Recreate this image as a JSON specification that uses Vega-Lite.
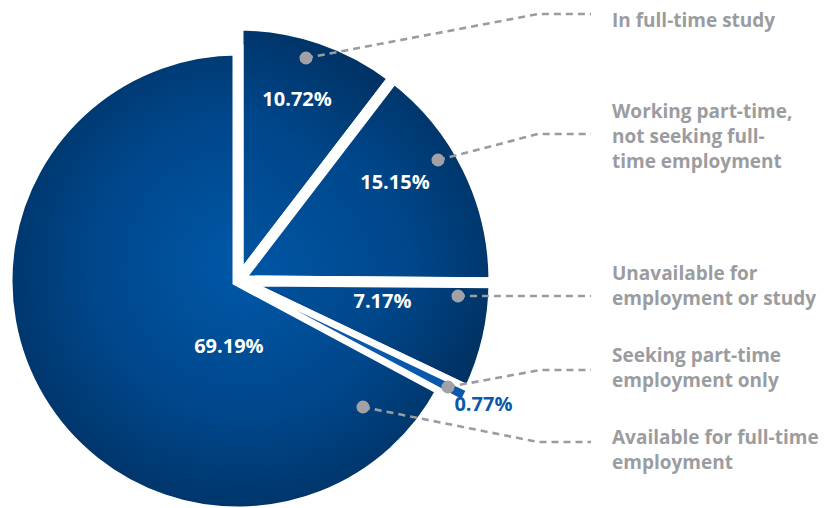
{
  "$schema": "https://vega.github.io/schema/vega-lite/v6.json",
  "width": 826,
  "height": 508,
  "padding": 0,
  "autosize": {"type": "none"},
  "background": "white",
  "config": {"view": {"stroke": null}},
  "datasets": {
    "slices": [
      {"category": "In full-time study", "value": 10.72, "order": 1},
      {"category": "Working part-time, not seeking full-time employment", "value": 15.15, "order": 2},
      {"category": "Unavailable for employment or study", "value": 7.17, "order": 3},
      {"category": "Seeking part-time employment only", "value": 0.77, "order": 4},
      {"category": "Available for full-time employment", "value": 69.19, "order": 5}
    ],
    "labels": [
      {"category": "In full-time study", "lines": ["In full-time study"], "px": 612, "py": 11.6},
      {"category": "Working part-time, not seeking full-time employment", "lines": ["Working part-time,", "not seeking full-", "time employment"], "px": 612, "py": 102.6},
      {"category": "Unavailable for employment or study", "lines": ["Unavailable for", "employment or study"], "px": 612, "py": 264.6},
      {"category": "Seeking part-time employment only", "lines": ["Seeking part-time", "employment only"], "px": 612, "py": 346.6},
      {"category": "Available for full-time employment", "lines": ["Available for full-time", "employment"], "px": 612, "py": 428.6}
    ],
    "leaders": [
      {"category": "In full-time study", "step": 1, "px": 306, "py": 58},
      {"category": "In full-time study", "step": 2, "px": 538, "py": 14},
      {"category": "In full-time study", "step": 3, "px": 591, "py": 14},
      {"category": "Working part-time, not seeking full-time employment", "step": 1, "px": 438, "py": 160},
      {"category": "Working part-time, not seeking full-time employment", "step": 2, "px": 538, "py": 134},
      {"category": "Working part-time, not seeking full-time employment", "step": 3, "px": 591, "py": 134},
      {"category": "Unavailable for employment or study", "step": 1, "px": 458, "py": 296},
      {"category": "Unavailable for employment or study", "step": 3, "px": 591, "py": 296},
      {"category": "Seeking part-time employment only", "step": 1, "px": 448, "py": 387},
      {"category": "Seeking part-time employment only", "step": 2, "px": 540, "py": 370},
      {"category": "Seeking part-time employment only", "step": 3, "px": 591, "py": 370},
      {"category": "Available for full-time employment", "step": 1, "px": 363, "py": 407},
      {"category": "Available for full-time employment", "step": 2, "px": 538, "py": 442},
      {"category": "Available for full-time employment", "step": 3, "px": 591, "py": 442}
    ]
  },
  "layer": [
    {
      "data": {"name": "slices"},
      "mark": {
        "type": "arc",
        "outerRadius": {"expr": "datum.value > 50 ? 231 : 256"},
        "stroke": "white",
        "strokeWidth": 11,
        "strokeJoin": "miter"
      },
      "encoding": {
        "theta": {"field": "value", "type": "quantitative", "stack": true},
        "order": {"field": "order", "type": "quantitative"},
        "x": {"datum": 238, "type": "quantitative", "scale": {"domain": [0, 826], "nice": false, "zero": false}, "axis": null},
        "y": {"datum": 281, "type": "quantitative", "scale": {"domain": [0, 508], "nice": false, "zero": false, "reverse": true}, "axis": null},
        "fill": {
          "condition": [
            {"test": "datum.order == 1", "value": {"gradient": "radial", "x1": 0, "y1": 1, "r1": 0, "x2": 0, "y2": 1, "r2": 1.15, "stops": [{"offset": 0, "color": "#0058a8"}, {"offset": 0.6, "color": "#00468a"}, {"offset": 1, "color": "#002f5e"}]}},
            {"test": "datum.order == 2", "value": {"gradient": "radial", "x1": 0, "y1": 0.93, "r1": 0, "x2": 0, "y2": 0.93, "r2": 1.15, "stops": [{"offset": 0, "color": "#0058a8"}, {"offset": 0.6, "color": "#00468a"}, {"offset": 1, "color": "#002f5e"}]}},
            {"test": "datum.order == 3", "value": {"gradient": "radial", "x1": 0, "y1": 0, "r1": 0, "x2": 0, "y2": 0, "r2": 1.15, "stops": [{"offset": 0, "color": "#0058a8"}, {"offset": 0.6, "color": "#00468a"}, {"offset": 1, "color": "#002f5e"}]}},
            {"test": "datum.order == 4", "value": "#0a58aa"}
          ],
          "value": {"gradient": "radial", "x1": 0.54, "y1": 0.47, "r1": 0, "x2": 0.54, "y2": 0.47, "r2": 0.6, "stops": [{"offset": 0, "color": "#0058a8"}, {"offset": 0.55, "color": "#00468a"}, {"offset": 1, "color": "#002f5e"}]}
        }
      }
    },
    {
      "data": {"name": "slices"},
      "mark": {
        "type": "arc",
        "outerRadius": 254,
        "stroke": "white",
        "strokeWidth": 3,
        "fill": "#0a58aa"
      },
      "encoding": {
        "theta": {"field": "value", "type": "quantitative", "stack": true},
        "order": {"field": "order", "type": "quantitative"},
        "x": {"datum": 238, "type": "quantitative"},
        "y": {"datum": 281, "type": "quantitative"},
        "opacity": {"condition": {"test": "datum.value < 1", "value": 1}, "value": 0}
      }
    },
    {
      "data": {"name": "leaders"},
      "mark": {"type": "line", "stroke": "#9c9ca0", "strokeWidth": 2.6, "strokeDash": [7, 5]},
      "encoding": {
        "x": {"field": "px", "type": "quantitative"},
        "y": {"field": "py", "type": "quantitative"},
        "detail": {"field": "category"},
        "order": {"field": "step", "type": "quantitative"}
      }
    },
    {
      "data": {"name": "leaders"},
      "transform": [{"filter": "datum.step == 1"}],
      "mark": {"type": "point", "filled": true, "size": 170, "color": "#a2a2a6", "opacity": 1},
      "encoding": {
        "x": {"field": "px", "type": "quantitative"},
        "y": {"field": "py", "type": "quantitative"}
      }
    },
    {
      "data": {"name": "slices"},
      "mark": {
        "type": "text",
        "font": "Open Sans",
        "fontWeight": "bold",
        "fontSize": 20,
        "align": "center",
        "baseline": "middle",
        "text": {"expr": "format(datum.value, '.2f') + '%'"},
        "radius": {"expr": "[190, 185, 146, 275, 67][datum.order - 1]"},
        "thetaOffset": {"expr": "[-0.011, -0.103, -0.082, 0, -0.895][datum.order - 1]"}
      },
      "encoding": {
        "theta": {"field": "value", "type": "quantitative", "stack": true},
        "order": {"field": "order", "type": "quantitative"},
        "x": {"datum": 238, "type": "quantitative"},
        "y": {"datum": 281, "type": "quantitative"},
        "color": {"condition": {"test": "datum.value < 1", "value": "#0a58aa"}, "value": "white"}
      }
    },
    {
      "data": {"name": "labels"},
      "mark": {"type": "text", "font": "Open Sans", "fontWeight": "bold", "fontSize": 19, "align": "left", "baseline": "top", "lineHeight": 25, "color": "#9b9ca0"},
      "encoding": {
        "x": {"field": "px", "type": "quantitative"},
        "y": {"field": "py", "type": "quantitative"},
        "text": {"field": "lines"}
      }
    }
  ]
}
